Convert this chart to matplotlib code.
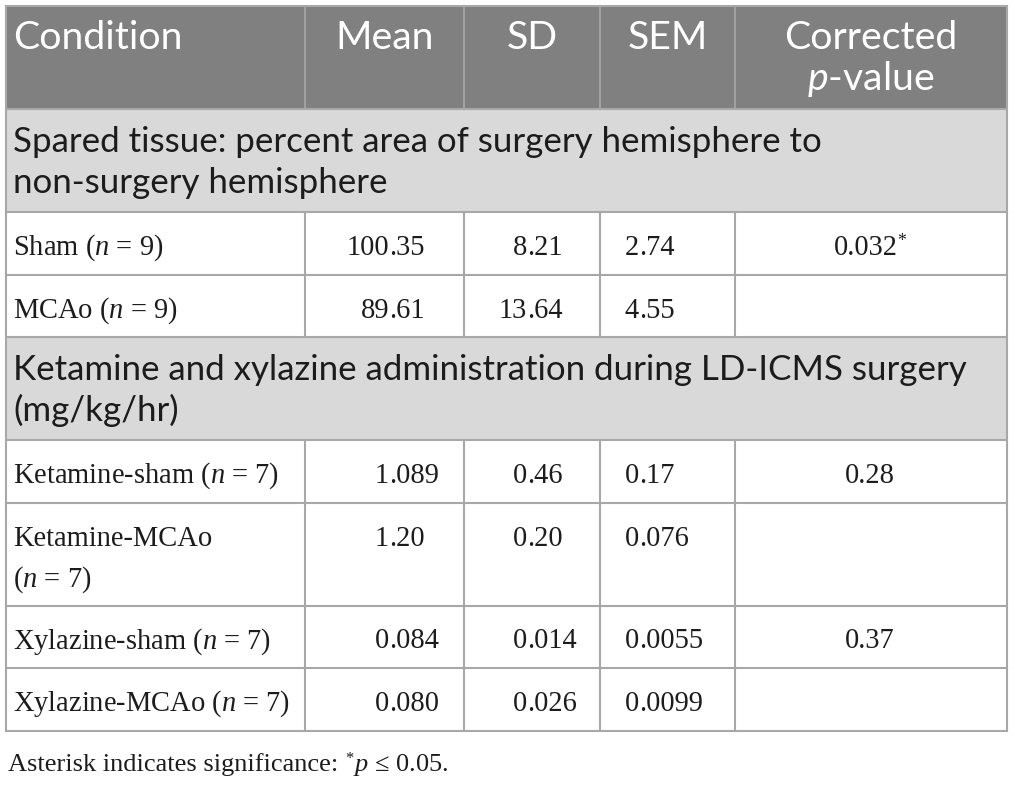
import matplotlib
matplotlib.use('Agg')
import matplotlib.pyplot as plt
from matplotlib.patches import Rectangle

plt.rcParams['mathtext.fontset'] = 'custom'
plt.rcParams['mathtext.rm'] = 'Liberation Serif'
plt.rcParams['mathtext.it'] = 'Liberation Serif:italic'
plt.rcParams['mathtext.sf'] = 'Lato:italic'

# ---------------- data ----------------
headers = ['Condition', 'Mean', 'SD', 'SEM', 'Corrected\n$\\mathsf{p}$-value']
section_titles = ['Spared tissue: percent area of surgery hemisphere to\nnon-surgery hemisphere',
                  'Ketamine and xylazine administration during LD-ICMS surgery\n(mg/kg/hr)']
conditions = [['Sham ($n$ = 9)', 'MCAo ($n$ = 9)'],
              ['Ketamine-sham ($n$ = 7)', 'Ketamine-MCAo\n($n$ = 7)',
               'Xylazine-sham ($n$ = 7)', 'Xylazine-MCAo ($n$ = 7)']]
means = [['100.35', '89.61'], ['1.089', '1.20', '0.084', '0.080']]
sds = [['8.21', '13.64'], ['0.46', '0.20', '0.014', '0.026']]
sems = [['2.74', '4.55'], ['0.17', '0.076', '0.0055', '0.0099']]
pvalues = [['0.032', ''], ['0.28', '', '0.37', '']]
significant = [[True, False], [False, False, False, False]]
footnote_a = 'Asterisk indicates significance: '
footnote_b = '$p$ \u2264 0.05.'

# ---------------- layout / style ----------------
col_edges = [6, 305, 464, 600, 735, 1007]
decimal_x = [389, 527, 639]        # decimal alignment for Mean, SD, SEM
pval_cx = 870
top = 6
pad_x = 7
base_off = 43      # baseline offset from row top
line_h = 41        # line spacing
def row_h(n_lines):
    return 22 + 40.5 * n_lines

HEADER_BG = '#808080'
SECTION_BG = '#d9d9d9'
LINE_C = '#a8a8a8'
TXT = '#1c1c1c'
SANS = 'Lato'
SERIF = 'Liberation Serif'

fig = plt.figure(figsize=(10.15, 7.86), dpi=100)
ax = fig.add_axes([0, 0, 1, 1])
ax.set_xlim(0, 1015)
ax.set_ylim(786, 0)
ax.axis('off')
r = fig.canvas.get_renderer()

def width(s, fs, **kw):
    t = ax.text(0, 0, s, fontsize=fs, **kw)
    w = t.get_window_extent(r).width
    t.remove()
    return w

def fit(s, target, **kw):
    return 20 * target / width(s, 20, **kw)

fs_head = fit('Condition', 170, family=SANS)
fs_sec = fit(section_titles[0].split('\n')[0], 810, family=SANS)
fs_body = 0.5 * (fit('100.35', 77, family=SERIF) + fit('Ketamine-sham ($n$ = 7)', 270, family=SERIF))
fs_foot = fit(footnote_a + '*' + footnote_b, 442, family=SERIF)

def lines_text(x, y0, s, **kw):
    for i, ln in enumerate(s.split('\n')):
        ax.text(x, y0 + base_off + i * line_h, ln, va='baseline', **kw)

def hline(y, x0=col_edges[0], x1=col_edges[-1]):
    ax.plot([x0, x1], [y, y], color=LINE_C, lw=1.5, solid_capstyle='projecting', zorder=3)

def vlines(y0, y1, color=LINE_C):
    for x in col_edges[1:-1]:
        ax.plot([x, x], [y0, y1], color=color, lw=1.5, solid_capstyle='butt', zorder=3)

def star(x, ybase, fs):
    # small raised asterisk, top roughly at cap height
    ax.text(x, ybase - 0.30 * fs * 100 / 72, '*', family=SERIF, fontsize=fs * 0.62, color=TXT,
            ha='left', va='baseline', zorder=4)

W = col_edges[-1] - col_edges[0]
y = top
# header
nh = max(h.count('\n') + 1 for h in headers)
h = row_h(nh)
ax.add_patch(Rectangle((col_edges[0], y), W, h, facecolor=HEADER_BG, edgecolor='none', zorder=1))
for j, t in enumerate(headers):
    if j == 0:
        lines_text(col_edges[0] + pad_x, y, t, family=SANS, fontsize=fs_head, color='white', ha='left', zorder=4)
    else:
        cx = (col_edges[j] + col_edges[j + 1]) / 2
        lines_text(cx, y, t, family=SANS, fontsize=fs_head, color='white', ha='center', zorder=4)
vlines(y, y + h, color='#a0a0a0')
hline(y)
y += h
hline(y)

for g, title in enumerate(section_titles):
    h = row_h(title.count('\n') + 1)
    ax.add_patch(Rectangle((col_edges[0], y), W, h, facecolor=SECTION_BG, edgecolor='none', zorder=1))
    lines_text(col_edges[0] + pad_x, y, title, family=SANS, fontsize=fs_sec, color=TXT, ha='left', zorder=4)
    y += h
    hline(y)
    for i, cond in enumerate(conditions[g]):
        h = row_h(cond.count('\n') + 1)
        lines_text(col_edges[0] + pad_x, y, cond, family=SERIF, fontsize=fs_body, color=TXT, ha='left', zorder=4)
        for k, col in enumerate([means, sds, sems]):
            v = col[g][i]
            ip, fp = v.split('.')
            ax.text(decimal_x[k], y + base_off, ip, family=SERIF, fontsize=fs_body, color=TXT,
                    ha='right', va='baseline', zorder=4)
            ax.text(decimal_x[k], y + base_off, '.' + fp, family=SERIF, fontsize=fs_body, color=TXT,
                    ha='left', va='baseline', zorder=4)
        pv = pvalues[g][i]
        if pv:
            wpv = width(pv, fs_body, family=SERIF)
            sw = width('*', fs_body * 0.62, family=SERIF) if significant[g][i] else 0
            x0 = pval_cx - (wpv + sw) / 2
            ax.text(x0, y + base_off, pv, family=SERIF, fontsize=fs_body, color=TXT,
                    ha='left', va='baseline', zorder=4)
            if significant[g][i]:
                star(x0 + wpv, y + base_off, fs_body)
        vlines(y, y + h)
        y += h
        hline(y)

# outer vertical borders
for x in (col_edges[0], col_edges[-1]):
    ax.plot([x, x], [top, y], color=LINE_C, lw=1.5, solid_capstyle='projecting', zorder=3)

fy = y + 40
wa = width(footnote_a, fs_foot, family=SERIF)
ax.text(8, fy, footnote_a, family=SERIF, fontsize=fs_foot, color=TXT, ha='left', va='baseline')
star(8 + wa, fy, fs_foot)
ws = width('*', fs_foot * 0.62, family=SERIF)
ax.text(8 + wa + ws, fy, footnote_b, family=SERIF, fontsize=fs_foot, color=TXT, ha='left', va='baseline')

fig.savefig('out.png', dpi=100)
